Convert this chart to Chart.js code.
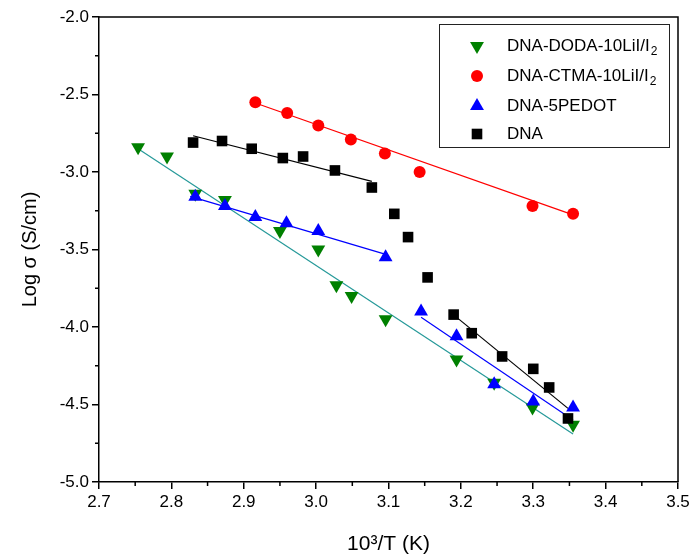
<!DOCTYPE html>
<html>
<head>
<meta charset="utf-8">
<title>Log conductivity vs 1000/T</title>
<script src="https://cdn.jsdelivr.net/npm/chart.js@4.4.0/dist/chart.umd.min.js"></script>
<style>
  html, body { margin: 0; padding: 0; background: #fff; }
  #wrap { width: 693px; height: 558px; }
</style>
</head>
<body>
<div id="wrap"><canvas id="sigmaChart" width="693" height="558"></canvas></div>
<script>
// ----- data -----
const seriesLabels = ['DNA-DODA-10LiI/I₂', 'DNA-CTMA-10LiI/I₂', 'DNA-5PEDOT', 'DNA'];

const dodaX = [2.754, 2.794, 2.833, 2.874, 2.950, 3.003, 3.028, 3.049, 3.096, 3.194, 3.246, 3.299, 3.355];
const dodaY = [-2.84, -2.90, -3.14, -3.18, -3.38, -3.50, -3.73, -3.80, -3.95, -4.21, -4.36, -4.52, -4.63];

const ctmaX = [2.916, 2.960, 3.003, 3.048, 3.095, 3.143, 3.299, 3.355];
const ctmaY = [-2.55, -2.62, -2.70, -2.79, -2.88, -3.00, -3.22, -3.27];

const pedotX = [2.833, 2.874, 2.916, 2.959, 3.003, 3.096, 3.145, 3.194, 3.246, 3.300, 3.355];
const pedotY = [-3.16, -3.22, -3.29, -3.33, -3.38, -3.55, -3.90, -4.06, -4.37, -4.48, -4.52];

const dnaX = [2.830, 2.870, 2.911, 2.954, 2.982, 3.026, 3.077, 3.108, 3.127, 3.154, 3.190, 3.215, 3.257, 3.300, 3.322, 3.348];
const dnaY = [-2.81, -2.80, -2.85, -2.91, -2.90, -2.99, -3.10, -3.27, -3.42, -3.68, -3.92, -4.04, -4.19, -4.27, -4.39, -4.59];

// fitted straight lines (end points)
const dodaFitX = [2.754, 3.355];
const dodaFitY = [-2.85, -4.69];
const ctmaFitX = [2.916, 3.360];
const ctmaFitY = [-2.555, -3.285];
const pedotFit1X = [2.826, 3.095];
const pedotFit1Y = [-3.157, -3.530];
const pedotFit2X = [3.145, 3.355];
const pedotFit2Y = [-3.937, -4.600];
const dnaFit1X = [2.830, 3.077];
const dnaFit1Y = [-2.766, -3.060];
const dnaFit2X = [3.190, 3.348];
const dnaFit2Y = [-3.922, -4.525];

const xTicks = [2.7, 2.8, 2.9, 3.0, 3.1, 3.2, 3.3, 3.4, 3.5];
const yTicks = [-5.0, -4.5, -4.0, -3.5, -3.0, -2.5, -2.0];

// ----- helpers -----
const FONT = 'Liberation Sans, Arial, Helvetica, sans-serif';

function toPoints(xs, ys) {
    return xs.map((x, i) => ({ x: x, y: ys[i] }));
}

function markerSet(label, xs, ys, style, color, radius, rotation, order) {
    return {
        label: label,
        data: toPoints(xs, ys),
        showLine: false,
        pointStyle: style,
        pointRadius: radius,
        pointRotation: rotation,
        pointBackgroundColor: color,
        pointBorderColor: color,
        pointBorderWidth: 0,
        order: order
    };
}

function fitLine(xs, ys, color) {
    return {
        label: '',
        isFit: true,
        data: toPoints(xs, ys),
        showLine: true,
        borderColor: color,
        borderWidth: 1.2,
        pointRadius: 0,
        fill: false,
        tension: 0,
        order: 10
    };
}

function midpoints(arr) {
    const out = [];
    for (let i = 0; i < arr.length - 1; i++) out.push((arr[i] + arr[i + 1]) / 2);
    return out;
}

// minor ticks and top/right frame
const framePlugin = {
    id: 'frame',
    afterDraw(chart) {
        const { ctx, chartArea } = chart;
        const xs = chart.scales.x, ys = chart.scales.y;
        ctx.save();
        ctx.strokeStyle = '#000';
        ctx.lineWidth = 1.5;
        ctx.beginPath();
        ctx.moveTo(chartArea.left, chartArea.top);
        ctx.lineTo(chartArea.right, chartArea.top);
        ctx.lineTo(chartArea.right, chartArea.bottom);
        ctx.stroke();

        ctx.beginPath();
        midpoints(xTicks).forEach(v => {
            const px = xs.getPixelForValue(v);
            ctx.moveTo(px, chartArea.bottom);
            ctx.lineTo(px, chartArea.bottom + 4);
        });
        midpoints(yTicks).forEach(v => {
            const py = ys.getPixelForValue(v);
            ctx.moveTo(chartArea.left, py);
            ctx.lineTo(chartArea.left - 4, py);
        });
        ctx.stroke();
        ctx.restore();
    }
};

// boxed legend with subscripts
const legendPlugin = {
    id: 'boxLegend',
    afterDraw(chart) {
        const { ctx, chartArea } = chart;
        const w = 230, h = 123;
        const x0 = chartArea.right - 239, y0 = chartArea.top + 7;
        const rows = [22, 52, 82, 110];
        ctx.save();
        ctx.strokeStyle = '#222';
        ctx.lineWidth = 1;
        ctx.strokeRect(x0 + 0.5, y0 + 0.5, w, h);

        const sets = chart.data.datasets.filter(d => !d.isFit);
        sets.forEach((ds, i) => {
            const cy = y0 + rows[i];
            ctx.fillStyle = ds.pointBackgroundColor;
            ctx.strokeStyle = ds.pointBorderColor;
            Chart.helpers.drawPoint(ctx, {
                pointStyle: ds.pointStyle,
                rotation: ds.pointRotation,
                radius: ds.pointRadius,
                borderWidth: 0
            }, x0 + 38, cy);

            ctx.fillStyle = '#000';
            ctx.textBaseline = 'middle';
            ctx.textAlign = 'left';
            let tx = x0 + 68;
            for (const ch of ds.label) {
                if (ch === '₂') {
                    ctx.font = '12px ' + FONT;
                    ctx.fillText('2', tx + 1, cy + 6);
                    tx += ctx.measureText('2').width + 1;
                } else {
                    ctx.font = '17px ' + FONT;
                    ctx.fillText(ch, tx, cy);
                    tx += ctx.measureText(ch).width;
                }
            }
        });
        ctx.restore();
    }
};

// ----- chart -----
document.addEventListener('DOMContentLoaded', function() {
    const ctx = document.getElementById('sigmaChart');

    const datasets = [
        markerSet(seriesLabels[0], dodaX, dodaY, 'triangle', '#008000', 8, 180, 4),
        markerSet(seriesLabels[1], ctmaX, ctmaY, 'circle', '#ff0000', 6, 0, 3),
        markerSet(seriesLabels[2], pedotX, pedotY, 'triangle', '#0000ff', 8, 0, 2),
        markerSet(seriesLabels[3], dnaX, dnaY, 'rect', '#000000', 7.5, 0, 1),
        fitLine(dodaFitX, dodaFitY, '#269999'),
        fitLine(ctmaFitX, ctmaFitY, '#ff0000'),
        fitLine(pedotFit1X, pedotFit1Y, '#0000ff'),
        fitLine(pedotFit2X, pedotFit2Y, '#0000ff'),
        fitLine(dnaFit1X, dnaFit1Y, '#000000'),
        fitLine(dnaFit2X, dnaFit2Y, '#000000')
    ];

    new Chart(ctx, {
        type: 'scatter',
        data: { datasets: datasets },
        options: {
            responsive: false,
            animation: false,
            layout: { padding: { top: 17, right: 15, left: 0, bottom: 0 } },
            plugins: {
                legend: { display: false },
                tooltip: { enabled: false }
            },
            scales: {
                x: {
                    type: 'linear',
                    min: 2.7,
                    max: 3.5,
                    afterBuildTicks: s => { s.ticks = xTicks.map(v => ({ value: v })); },
                    afterFit: s => { s.height = 76; },
                    ticks: {
                        autoSkip: false,
                        maxRotation: 0,
                        padding: 3,
                        color: '#000',
                        font: { family: FONT, size: 17 },
                        callback: v => Number(v).toFixed(1)
                    },
                    grid: { drawOnChartArea: false, drawTicks: true, tickLength: 7, color: '#000', lineWidth: 1.5 },
                    border: { display: true, color: '#000', width: 1.5 },
                    title: {
                        display: true,
                        text: '10³/T (K)',
                        color: '#000',
                        font: { family: FONT, size: 21 },
                        padding: { top: 0, bottom: 1 }
                    }
                },
                y: {
                    type: 'linear',
                    min: -5,
                    max: -2,
                    afterBuildTicks: s => { s.ticks = yTicks.map(v => ({ value: v })); },
                    afterFit: s => { s.width = 99; },
                    ticks: {
                        autoSkip: false,
                        padding: 3,
                        color: '#000',
                        font: { family: FONT, size: 17 },
                        callback: v => Number(v).toFixed(1)
                    },
                    grid: { drawOnChartArea: false, drawTicks: true, tickLength: 7, color: '#000', lineWidth: 1.5 },
                    border: { display: true, color: '#000', width: 1.5 },
                    title: {
                        display: true,
                        text: 'Log σ (S/cm)',
                        color: '#000',
                        font: { family: FONT, size: 20 },
                        padding: { top: 18, bottom: 0 }
                    }
                }
            }
        },
        plugins: [framePlugin, legendPlugin]
    });
});
</script>
</body>
</html>
